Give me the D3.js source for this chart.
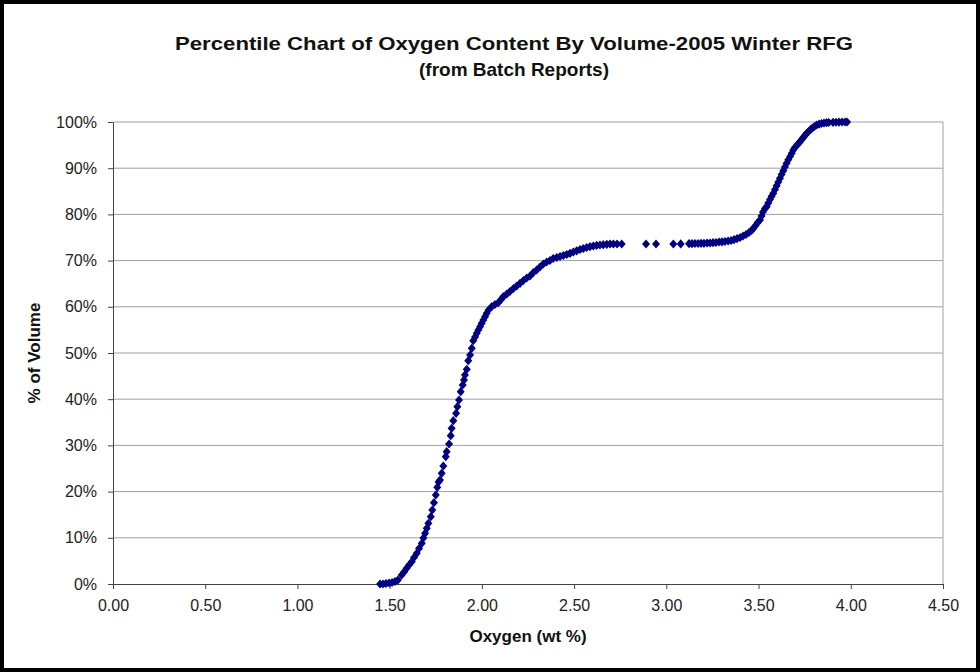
<!DOCTYPE html>
<html>
<head>
<meta charset="utf-8">
<script src="https://cdn.jsdelivr.net/npm/d3@7"></script>
<style>
  body { margin: 0; background: #fff; }
  svg { display: block; font-family: "Liberation Sans", Arial, sans-serif; }
</style>
</head>
<body>
<div id="chart"></div>
<script>
// oxygen wt % (x) and cumulative % of volume (y)
var oxygen = [
  1.448, 1.464, 1.480, 1.497, 1.513, 1.529, 1.545, 1.565, 1.578, 1.592,
  1.605, 1.620, 1.632, 1.647, 1.659, 1.674, 1.683, 1.692, 1.701, 1.710,
  1.723, 1.731, 1.740, 1.750, 1.758, 1.765, 1.773, 1.782, 1.791, 1.804,
  1.809, 1.822, 1.831, 1.836, 1.845, 1.860, 1.867, 1.876, 1.885, 1.896,
  1.903, 1.908, 1.918, 1.926, 1.936, 1.945, 1.953, 1.963, 1.972, 1.981,
  1.990, 1.999, 2.008, 2.017, 2.026, 2.036, 2.053, 2.071, 2.089, 2.104,
  2.116, 2.135, 2.152, 2.171, 2.189, 2.207, 2.225, 2.243, 2.261, 2.279,
  2.297, 2.315, 2.333, 2.351, 2.369, 2.387, 2.406, 2.424, 2.442, 2.460,
  2.478, 2.496, 2.514, 2.532, 2.550, 2.568, 2.586, 2.604, 2.622, 2.640,
  2.658, 2.677, 2.695, 2.713, 2.733, 2.758, 2.890, 2.944, 3.038, 3.078,
  3.123, 3.139, 3.155, 3.172, 3.188, 3.204, 3.221, 3.237, 3.253, 3.269,
  3.286, 3.302, 3.318, 3.335, 3.351, 3.367, 3.383, 3.400, 3.416, 3.432,
  3.448, 3.462, 3.472, 3.484, 3.495, 3.508, 3.516, 3.524, 3.535, 3.544,
  3.553, 3.562, 3.571, 3.580, 3.589, 3.598, 3.607, 3.616, 3.625, 3.634,
  3.643, 3.652, 3.661, 3.671, 3.680, 3.688, 3.697, 3.707, 3.716, 3.725,
  3.734, 3.743, 3.752, 3.761, 3.771, 3.782, 3.792, 3.803, 3.815, 3.828,
  3.841, 3.855, 3.869, 3.881, 3.904, 3.920, 3.936, 3.953, 3.969, 3.980
];
var volumePct = [
  0.00, 0.00, 0.11, 0.22, 0.32, 0.54, 0.87, 1.95, 2.60, 3.40,
  4.11, 4.83, 5.74, 6.65, 7.68, 8.81, 9.96, 10.97, 12.06, 13.14,
  14.57, 16.02, 17.60, 19.26, 20.93, 22.08, 22.51, 23.96, 25.54, 27.55,
  28.64, 30.30, 32.10, 33.70, 35.35, 36.95, 38.38, 39.83, 41.62, 43.07,
  44.16, 45.24, 46.47, 48.33, 49.57, 51.02, 52.66, 53.46, 54.26, 54.98,
  55.69, 56.43, 57.14, 57.86, 58.59, 59.31, 60.02, 60.50, 60.89, 61.58,
  62.19, 62.77, 63.31, 63.96, 64.50, 65.09, 65.69, 66.23, 66.67, 67.42,
  67.97, 68.61, 69.26, 69.70, 70.02, 70.45, 70.67, 70.89, 71.10, 71.32,
  71.58, 71.86, 72.12, 72.40, 72.62, 72.84, 73.01, 73.16, 73.31, 73.38,
  73.44, 73.53, 73.59, 73.59, 73.59, 73.59, 73.59, 73.59, 73.59, 73.62,
  73.66, 73.66, 73.70, 73.70, 73.74, 73.74, 73.81, 73.81, 73.87, 73.92,
  74.03, 74.07, 74.13, 74.24, 74.35, 74.52, 74.74, 75.00, 75.32, 75.65,
  76.08, 76.52, 76.99, 77.60, 78.25, 78.79, 79.65, 80.52, 81.28, 81.67,
  82.47, 83.23, 83.92, 84.57, 85.39, 86.19, 87.01, 87.81, 88.64, 89.44,
  90.26, 91.06, 91.82, 92.53, 93.23, 93.94, 94.48, 94.91, 95.35, 95.74,
  96.21, 96.69, 97.12, 97.55, 97.94, 98.38, 98.70, 99.03, 99.35, 99.52,
  99.68, 99.78, 99.85, 99.89, 99.93, 99.95, 99.97, 100.0, 100.0, 100.0
];
var xTicks = [0, 0.5, 1, 1.5, 2, 2.5, 3, 3.5, 4, 4.5];
var yTicks = [0, 10, 20, 30, 40, 50, 60, 70, 80, 90, 100];
var titleLines = ["Percentile Chart of Oxygen Content By Volume-2005 Winter RFG", "(from Batch Reports)"];

var outerWidth = 980, outerHeight = 672;
var margin = {top: 122, right: 37, bottom: 88, left: 113};
var width = outerWidth - margin.left - margin.right;
var height = outerHeight - margin.top - margin.bottom;

var data = oxygen.map(function(d, i){ return {x: d, y: volumePct[i]}; });

var outer = d3.select("#chart").append("svg")
  .attr("width", outerWidth)
  .attr("height", outerHeight);

outer.append("rect")
  .attr("x", 2).attr("y", 2)
  .attr("width", outerWidth - 4).attr("height", outerHeight - 4)
  .attr("fill", "#fff")
  .attr("stroke", "#000")
  .attr("stroke-width", 4);

// title (excel stretched the first line a bit wider)
outer.append("g").selectAll("text")
  .data(titleLines)
  .enter().append("text")
  .attr("x", 514)
  .attr("y", function(d, i){ return 50 + i * 26; })
  .attr("text-anchor", "middle")
  .attr("font-size", 19)
  .attr("font-weight", "bold")
  .attr("fill", "#111")
  .each(function(d, i){
    if (i === 0) d3.select(this).attr("textLength", 678).attr("lengthAdjust", "spacingAndGlyphs");
  })
  .text(function(d){ return d; });

var svg = outer.append("g")
  .attr("transform", "translate(" + margin.left + "," + margin.top + ")");

var x = d3.scaleLinear().domain([0, 4.5]).range([0, width]);
var y = d3.scaleLinear().domain([0, 100]).range([height, 0]);

// gridlines
svg.append("g").selectAll("line")
  .data(yTicks.filter(function(d){ return d > 0; }))
  .enter().append("line")
  .attr("x1", 0).attr("x2", width)
  .attr("y1", function(d){ return y(d); })
  .attr("y2", function(d){ return y(d); })
  .attr("stroke", "#a0a0a0")
  .attr("stroke-width", 1);

svg.append("line")
  .attr("x1", width).attr("x2", width)
  .attr("y1", 0).attr("y2", height)
  .attr("stroke", "#a0a0a0");

var xAxis = d3.axisBottom(x)
  .tickValues(xTicks)
  .tickFormat(d3.format(".2f"))
  .tickSize(5)
  .tickSizeOuter(0)
  .tickPadding(11);

var yAxis = d3.axisLeft(y)
  .tickValues(yTicks)
  .tickFormat(function(d){ return d + "%"; })
  .tickSize(5)
  .tickSizeOuter(0)
  .tickPadding(11);

var gx = svg.append("g")
  .attr("transform", "translate(0," + height + ")")
  .call(xAxis);
var gy = svg.append("g").call(yAxis);

[gx, gy].forEach(function(g){
  g.selectAll("path.domain").attr("stroke", "#444");
  g.selectAll(".tick line").attr("stroke", "#444");
  g.selectAll(".tick text")
    .attr("font-size", 16)
    .attr("fill", "#222")
    .attr("font-family", "Liberation Sans, Arial, sans-serif");
});

// markers: excel diamond, a bit taller than wide
var excelDiamond = {
  draw: function(context, size){
    var w = 4, h = 4.6;
    context.moveTo(0, -h);
    context.lineTo(w, 0);
    context.lineTo(0, h);
    context.lineTo(-w, 0);
    context.closePath();
  }
};
var diamond = d3.symbol().type(excelDiamond);
svg.append("g").selectAll("path")
  .data(data)
  .enter().append("path")
  .attr("d", diamond)
  .attr("transform", function(d){ return "translate(" + x(d.x) + "," + y(d.y) + ")"; })
  .attr("fill", "#000080");

// axis titles
outer.append("text")
  .attr("x", margin.left + width / 2)
  .attr("y", 642)
  .attr("text-anchor", "middle")
  .attr("font-size", 17)
  .attr("font-weight", "bold")
  .attr("fill", "#111")
  .text("Oxygen (wt %)");

outer.append("text")
  .attr("transform", "translate(40," + (margin.top + height / 2) + ") rotate(-90)")
  .attr("text-anchor", "middle")
  .attr("font-size", 17)
  .attr("font-weight", "bold")
  .attr("fill", "#111")
  .text("% of Volume");
</script>
</body>
</html>
